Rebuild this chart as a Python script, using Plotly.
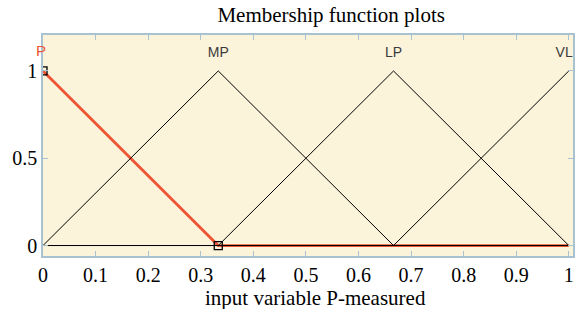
import plotly.graph_objects as go

# ---- data ----
mf_names = ["P", "MP", "LP", "VLP"]
mf_a = [-1/3, 0.0, 1/3, 2/3]      # left feet
mf_b = [0.0, 1/3, 2/3, 1.0]       # peaks
mf_c = [1/3, 2/3, 1.0, 4/3]       # right feet
x_samples = [0.0, 1/3, 2/3, 1.0]
x_tick_vals = [0, 0.1, 0.2, 0.3, 0.4, 0.5, 0.6, 0.7, 0.8, 0.9, 1.0]
x_tick_text = ["0", "0.1", "0.2", "0.3", "0.4", "0.5", "0.6", "0.7", "0.8", "0.9", "1"]
y_tick_vals = [0, 0.5, 1]
y_tick_text = ["0", "0.5", "1"]
selected = "P"
label_y = 1.10
x_title = "input variable P-measured"


def trimf(x, a, b, c):
    if x <= a or x >= c:
        return 1.0 if x == b else 0.0
    if x <= b:
        return (x - a) / (b - a) if b != a else 1.0
    return (c - x) / (c - b) if c != b else 1.0


RED = "#EE5534"
BORDER = "#A9C2D2"
BG = "#FBF3DA"

fig = go.Figure()

sel_vx, sel_vy = [], []
# selected MF (red, thick) first
for name, a, b, c in zip(mf_names, mf_a, mf_b, mf_c):
    if name != selected:
        continue
    ys = [trimf(x, a, b, c) for x in x_samples]
    fig.add_trace(go.Scatter(x=x_samples, y=ys, mode="lines",
                             line=dict(color=RED, width=2.8), hoverinfo="skip"))
    sel_vx = [v for v in (a, b, c) if 0 <= v <= 1]
    sel_vy = [trimf(v, a, b, c) for v in sel_vx]

for name, a, b, c in zip(mf_names, mf_a, mf_b, mf_c):
    if name == selected:
        continue
    ys = [trimf(x, a, b, c) for x in x_samples]
    fig.add_trace(go.Scatter(x=x_samples, y=ys, mode="lines",
                             line=dict(color="black", width=1), hoverinfo="skip"))

fig.add_trace(go.Scatter(x=sel_vx, y=sel_vy, mode="markers",
                         marker=dict(symbol="square-open", size=8, color="black",
                                     line=dict(width=1.3)),
                         cliponaxis=True, hoverinfo="skip"))

# MF labels
other_names = [n for n in mf_names if n != selected]
other_b = [b for n, b in zip(mf_names, mf_b) if n != selected]
fig.add_trace(go.Scatter(x=other_b, y=[label_y] * len(other_b), mode="text",
                         text=other_names, textposition="middle center",
                         textfont=dict(family="Liberation Sans", size=14, color="#3a3a3a"),
                         cliponaxis=True, hoverinfo="skip"))
sel_b = [b for n, b in zip(mf_names, mf_b) if n == selected][0]
fig.add_annotation(x=sel_b, y=label_y + 0.015, text=selected, showarrow=False,
                   font=dict(family="Liberation Sans", size=15, color=RED),
                   xanchor="center", yanchor="middle", xshift=-2)

# x-axis title
fig.add_annotation(xref="x domain", yref="y domain", x=0.515, y=-0.19,
                   text=x_title, showarrow=False, xanchor="center", yanchor="middle",
                   font=dict(family="Liberation Serif", size=21, color="black"))

fig.update_layout(
    width=578, height=309,
    margin=dict(l=43, r=5, t=35, b=53, autoexpand=False),
    paper_bgcolor="white", plot_bgcolor=BG,
    showlegend=False,
    title=dict(text="Membership function plots", x=0.573, xanchor="center",
               y=0.951, yanchor="middle",
               font=dict(family="Liberation Serif", size=21, color="black")),
    font=dict(family="Liberation Serif", size=20, color="black"),
)
fig.update_xaxes(range=[0, 1.008], tickvals=x_tick_vals, ticktext=x_tick_text,
                 ticks="inside", ticklen=5, tickcolor=BORDER, tickwidth=1,
                 showline=True, linecolor=BORDER, linewidth=1.5, mirror="ticks",
                 showgrid=False, zeroline=False, automargin=False,
                 tickfont=dict(family="Liberation Serif", size=20))
fig.update_yaxes(range=[-0.06, 1.206], tickvals=y_tick_vals, ticktext=y_tick_text,
                 ticks="inside", ticklen=5, tickcolor=BORDER, tickwidth=1,
                 showline=True, linecolor=BORDER, linewidth=1.5, mirror="ticks",
                 showgrid=False, zeroline=False, automargin=False,
                 tickfont=dict(family="Liberation Serif", size=20))

fig.write_html("out.html", config={"displayModeBar": False},
               post_script="document.body.style.margin='0';document.body.style.overflow='hidden';")
